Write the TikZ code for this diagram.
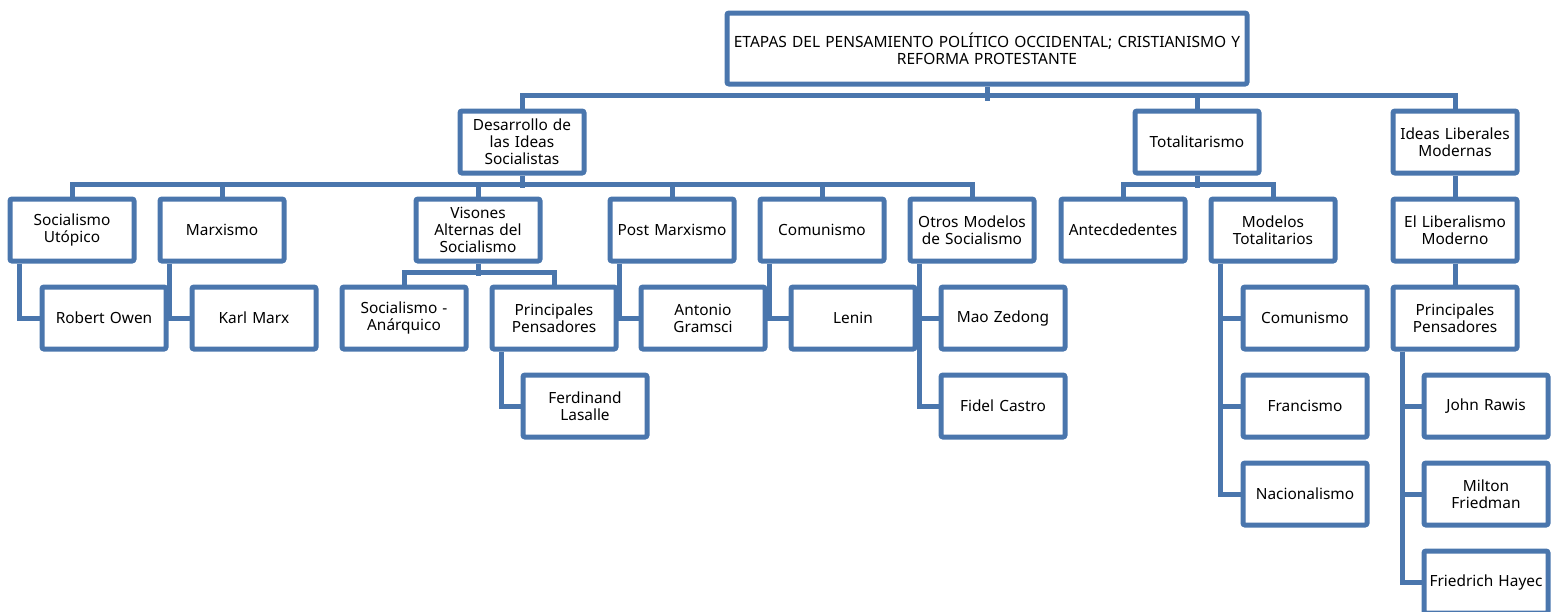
\documentclass[tikz,border=0pt]{standalone}
\usepackage{fontspec}
\setmainfont{Noto Sans}
\definecolor{boxblue}{RGB}{74,118,173}
\tikzset{
  x=1pt, y=1pt,
  box/.style={draw=boxblue, line width=5pt, rounded corners=2pt, fill=white,
    text width=118pt, inner xsep=3pt, inner ysep=0pt, minimum height=62pt,
    align=center, font=\fontsize{15.4}{17}\selectfont, text=black},
  titlebox/.style={box, text width=518pt, inner xsep=1pt, minimum height=71pt,
    font=\fontsize{15.5}{17}\selectfont},
  conn/.style={draw=boxblue, line width=5pt}
}
\begin{document}
\begin{tikzpicture}
\clip (0,0) rectangle (1561,-611);
% nodes
\node[titlebox] (top) at (987,-48.5) {ETAPAS DEL PENSAMIENTO POLÍTICO OCCIDENTAL; CRISTIANISMO Y\\REFORMA PROTESTANTE};
\node[box] (desa) at (522,-142) {Desarrollo de\\las Ideas\\Socialistas};
\node[box] (tot) at (1197,-142) {Totalitarismo};
\node[box] (idl) at (1455,-142) {Ideas Liberales\\Modernas};
\node[box] (su) at (72,-230) {Socialismo\\Utópico};
\node[box] (ma) at (222,-230) {Marxismo};
\node[box] (vi) at (478,-230) {Visones\\Alternas del\\Socialismo};
\node[box] (pm) at (672,-230) {Post Marxismo};
\node[box] (co) at (822,-230) {Comunismo};
\node[box] (om) at (972,-230) {Otros Modelos\\de Socialismo};
\node[box] (an) at (1123,-230) {Antecdedentes};
\node[box] (mt) at (1273,-230) {Modelos\\Totalitarios};
\node[box] (el) at (1455,-230) {El Liberalismo\\Moderno};
\node[box] (ro) at (104,-318) {Robert Owen};
\node[box] (km) at (254,-318) {Karl Marx};
\node[box] (sa) at (404,-318) {Socialismo -\\Anárquico};
\node[box] (pp) at (554,-318) {Principales\\Pensadores};
\node[box] (ag) at (703,-318) {Antonio\\Gramsci};
\node[box] (le) at (853,-318) {Lenin};
\node[box] (mz) at (1003,-318) {Mao Zedong};
\node[box] (ct) at (1305,-318) {Comunismo};
\node[box] (ppl) at (1455,-318) {Principales\\Pensadores};
\node[box] (fl) at (585,-406) {Ferdinand\\Lasalle};
\node[box] (fc) at (1003,-406) {Fidel Castro};
\node[box] (fr) at (1305,-406) {Francismo};
\node[box] (jr) at (1486,-406) {John Rawis};
\node[box] (na) at (1305,-494) {Nacionalismo};
\node[box] (mf) at (1486,-494) {Milton\\Friedman};
\node[box] (fh) at (1486,-582) {Friedrich Hayec};
% tree connectors
\draw[conn] (top.south) -- ++(0,-14);
\draw[conn] (desa.north) -- ++(0,13) -| (idl.north);
\draw[conn] (tot.north) -- ++(0,13);
\draw[conn] (desa.south) -- ++(0,-12);
\draw[conn] (su.north) -- ++(0,12) -| (om.north);
\draw[conn] (ma.north) -- ++(0,12);
\draw[conn] (vi.north) -- ++(0,12);
\draw[conn] (pm.north) -- ++(0,12);
\draw[conn] (co.north) -- ++(0,12);
\draw[conn] (tot.south) -- ++(0,-12);
\draw[conn] (an.north) -- ++(0,12) -| (mt.north);
\draw[conn] (idl.south) -- (el.north);
\draw[conn] (el.south) -- (ppl.north);
\draw[conn] (vi.south) -- ++(0,-12);
\draw[conn] (sa.north) -- ++(0,12) -| (pp.north);
\draw[conn] ([xshift=12pt]su.south west) |- (ro.west);
\draw[conn] ([xshift=12pt]ma.south west) |- (km.west);
\draw[conn] ([xshift=12pt]pp.south west) |- (fl.west);
\draw[conn] ([xshift=12pt]pm.south west) |- (ag.west);
\draw[conn] ([xshift=12pt]co.south west) |- (le.west);
\draw[conn] ([xshift=12pt]om.south west) |- (mz.west);
\draw[conn] ([xshift=12pt]om.south west) |- (fc.west);
\draw[conn] ([xshift=12pt]mt.south west) |- (ct.west);
\draw[conn] ([xshift=12pt]mt.south west) |- (fr.west);
\draw[conn] ([xshift=12pt]mt.south west) |- (na.west);
\draw[conn] ([xshift=12pt]ppl.south west) |- (jr.west);
\draw[conn] ([xshift=12pt]ppl.south west) |- (mf.west);
\draw[conn] ([xshift=12pt]ppl.south west) |- (fh.west);
\end{tikzpicture}
\end{document}
